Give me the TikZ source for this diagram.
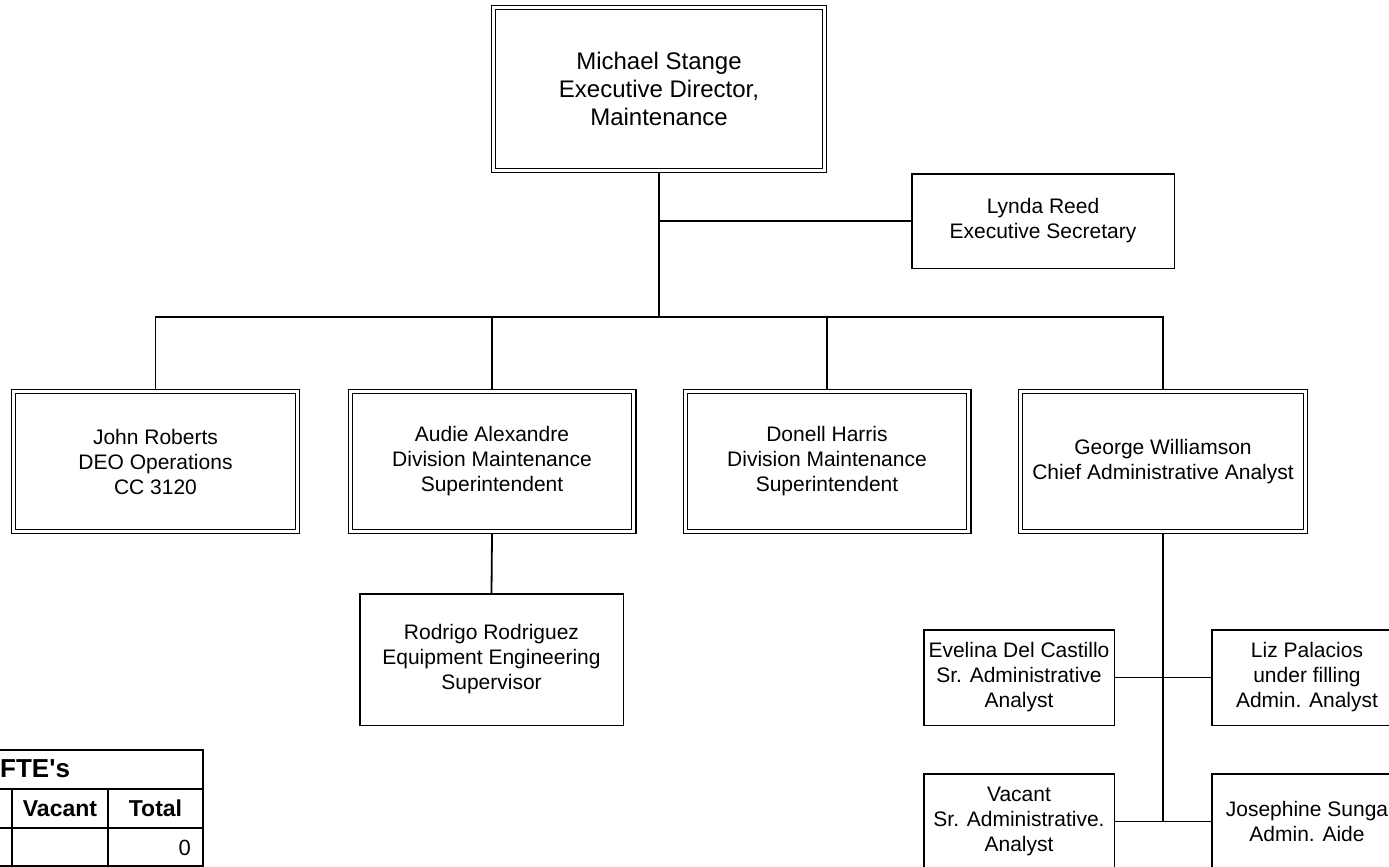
\documentclass[tikz,border=0pt]{standalone}
\usepackage{fontspec}
\setmainfont{Liberation Sans}
\newfontfamily\plainfont[Ligatures=TeXOff]{Liberation Sans}
\begin{document}
\begin{tikzpicture}[x=1pt,y=-1pt,
  box/.style={draw, line width=1.5pt, fill=white, align=center, inner sep=0pt,
    font=\fontsize{21}{25}\selectfont},
  dbox/.style={box, double, double distance=2.8pt, line width=1.3pt, outer sep=2.7pt},
  conn/.style={line width=1.8pt},
  tbl/.style={line width=2pt},
  tblb/.style={line width=2.6pt}]
\useasboundingbox (0,0) rectangle (1389,867);
\fill[white] (0,0) rectangle (1389,867);
\clip (0,0) rectangle (1389,867);

% boxes
\node[dbox, minimum width=330.6pt, minimum height=162.6pt, font=\fontsize{24}{28}\selectfont]
  (top) at (659,89) {Michael Stange\\Executive Director,\\Maintenance};
\node[box, minimum width=262.5pt, minimum height=94.5pt]
  (lynda) at (1043,221) {Lynda Reed\\Executive Secretary};
\node[dbox, minimum width=283.6pt, minimum height=139.6pt]
  (john) at (155.5,461.5) {John Roberts\\DEO Operations\\CC 3120};
\node[dbox, minimum width=283.6pt, minimum height=139.6pt]
  (audie) at (492,461.5) {Audie Alexandre\\Division Maintenance\\Superintendent};
\node[dbox, minimum width=283.6pt, minimum height=139.6pt]
  (donell) at (827,461.5) {Donell Harris\\Division Maintenance\\Superintendent};
\node[dbox, minimum width=284.6pt, minimum height=139.6pt]
  (george) at (1163,461.5) {George Williamson\\Chief Administrative Analyst};
\node[box, minimum width=263.5pt, minimum height=131.5pt]
  (rodrigo) at (491.5,659.5) {Rodrigo Rodriguez\\Equipment Engineering\\Supervisor};
\node[box, minimum width=190.5pt, minimum height=95.5pt]
  (evelina) at (1019,677.5) {Evelina Del Castillo\\Sr. Administrative\\Analyst};
\node[box, minimum width=190.5pt, minimum height=95.5pt]
  (liz) at (1307,677.5) {Liz Palacios\\under filling\\Admin. Analyst};
\node[box, minimum width=190.5pt, minimum height=95.5pt]
  (vacant) at (1019,821.5) {Vacant\\Sr. Administrative.\\Analyst};
\node[box, minimum width=190.5pt, minimum height=95.5pt]
  (josephine) at (1307,821.5) {Josephine Sunga\\Admin. Aide};

% connectors
\coordinate (bus) at (659,317);
\draw[conn, line width=2.4pt] (top.south) -- (bus);
\draw[conn] (top.south) |- (lynda.west);
\draw[conn] (john.north) |- (bus) -| (george.north);
\draw[conn] (audie.north) -- (audie.north |- bus);
\draw[conn] (donell.north) -- (donell.north |- bus);
\draw[conn] (audie.south) -- (rodrigo.north);
\draw[conn] (george.south) -- (george.south |- josephine.west);
\draw[conn] (evelina.east) -- (liz.west);
\draw[conn] (vacant.east) -- (josephine.west);

% table
\draw[tbl] (0,789) -- (203,789);
\draw[tbl] (0,828) -- (203,828);
\draw[tbl] (0,866) -- (203,866);
\draw[tbl] (12,789) -- (12,867);
\draw[tbl] (108,789) -- (108,867);
\draw[tblb] (0,750) -- (203,750) -- (203,867);
\node[anchor=base west, inner sep=0pt, font=\plainfont\fontsize{26}{30}\selectfont\bfseries]
  (fte) at (0,777) {FTE's};
\node[anchor=base, inner sep=0pt, font=\fontsize{23}{27}\selectfont\bfseries]
  (vac) at (60,816) {Vacant};
\node[anchor=base, inner sep=0pt, font=\fontsize{23}{27}\selectfont\bfseries]
  (tot) at (155.5,816) {Total};
\node[anchor=base east, inner sep=0pt, font=\fontsize{22}{26}\selectfont]
  (zero) at (191,855) {0};
\end{tikzpicture}
\end{document}
